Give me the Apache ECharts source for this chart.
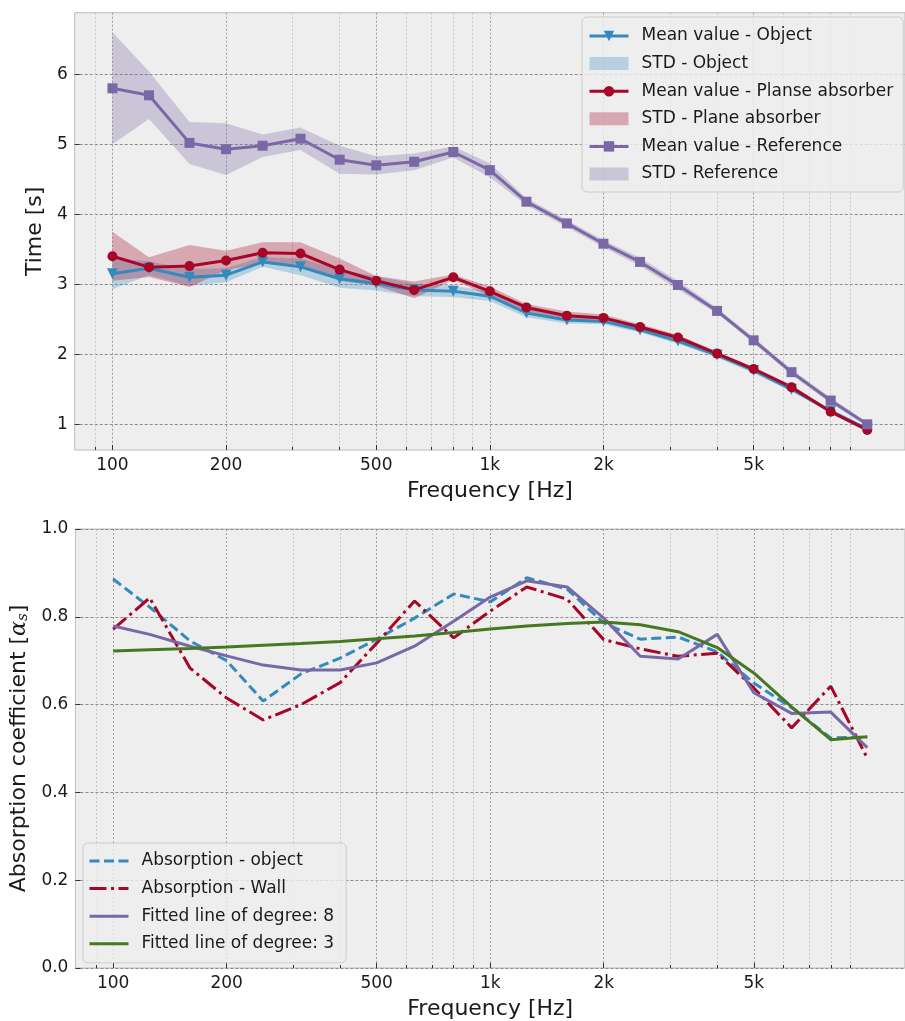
<!DOCTYPE html>
<html>
<head>
<meta charset="utf-8">
<script src="https://cdn.jsdelivr.net/npm/echarts@6/dist/echarts.min.js"></script>
<style>
  html, body { margin: 0; padding: 0; background: #ffffff; }
  #chart { width: 905px; height: 1021px; }
</style>
</head>
<body>
<div id="chart"></div>
<script>
// Third-octave band centre frequencies [Hz]
const freqs = [100, 125, 160, 200, 250, 315, 400, 500, 630, 800, 1000,
               1250, 1600, 2000, 2500, 3150, 4000, 5000, 6300, 8000, 10000];

// Labelled x ticks and the unlabelled minor ticks
const majorTickFreqs = [100, 200, 500, 1000, 2000, 5000];
const majorTickLabels = ['100', '200', '500', '1k', '2k', '5k'];
const minorTickFreqs = [90, 300, 400, 600, 700, 800, 900, 3000, 4000, 6000, 7000, 8000, 9000];
const timeTicks = [1, 2, 3, 4, 5, 6];

// Reverberation time [s]: mean and standard deviation per band
const objMean   = [3.15, 3.23, 3.10, 3.13, 3.32, 3.25, 3.08, 3.01, 2.92, 2.90, 2.83,
                   2.59, 2.49, 2.47, 2.35, 2.19, 1.99, 1.77, 1.50, 1.19, 0.93];
const objStd    = [0.22, 0.10, 0.12, 0.10, 0.07, 0.12, 0.13, 0.10, 0.09, 0.08, 0.07,
                   0.06, 0.05, 0.04, 0.04, 0.04, 0.04, 0.04, 0.03, 0.03, 0.03];
const planeMean = [3.40, 3.245, 3.26, 3.34, 3.45, 3.44, 3.21, 3.05, 2.92, 3.10, 2.90,
                   2.67, 2.55, 2.52, 2.39, 2.24, 2.01, 1.79, 1.53, 1.18, 0.92];
const planeStd  = [0.35, 0.14, 0.30, 0.14, 0.15, 0.16, 0.16, 0.07, 0.12, 0.04, 0.07,
                   0.05, 0.06, 0.05, 0.04, 0.04, 0.03, 0.03, 0.03, 0.03, 0.03];
const refMean   = [5.80, 5.70, 5.02, 4.93, 4.98, 5.08, 4.78, 4.70, 4.75, 4.89, 4.63,
                   4.18, 3.87, 3.58, 3.32, 2.99, 2.62, 2.20, 1.745, 1.34, 1.00];
const refStd    = [0.80, 0.34, 0.30, 0.37, 0.16, 0.16, 0.20, 0.13, 0.12, 0.08, 0.10,
                   0.05, 0.05, 0.05, 0.06, 0.06, 0.04, 0.04, 0.04, 0.04, 0.03];

// Absorption coefficients per band
const absObject = [0.886, 0.822, 0.745, 0.700, 0.608, 0.670, 0.706, 0.749, 0.797, 0.852, 0.834,
                   0.889, 0.863, 0.786, 0.749, 0.754, 0.720, 0.649, 0.593, 0.524, 0.526];
const absWall   = [0.772, 0.843, 0.683, 0.615, 0.565, 0.600, 0.650, 0.740, 0.836, 0.752, 0.813,
                   0.868, 0.840, 0.748, 0.727, 0.710, 0.717, 0.638, 0.547, 0.642, 0.478];
const fitDeg8   = [0.779, 0.760, 0.733, 0.711, 0.690, 0.679, 0.679, 0.695, 0.733, 0.790, 0.845,
                   0.882, 0.868, 0.797, 0.710, 0.704, 0.760, 0.627, 0.580, 0.583, 0.502];
const fitDeg3   = [0.722, 0.725, 0.728, 0.731, 0.735, 0.739, 0.744, 0.750, 0.756, 0.764, 0.772,
                   0.779, 0.785, 0.788, 0.782, 0.766, 0.730, 0.672, 0.595, 0.520, 0.527];

const C = { blue: '#348ABD', red: '#A60628', purple: '#7A68A6', green: '#467821' };
const FONT = 'DejaVu Sans';
const TXT = '#1a1a1a';
const lg = Math.log10;

const pts = ys => freqs.map((f, i) => [lg(f), ys[i]]);

function freqLabel(v) {
  for (let i = 0; i < majorTickFreqs.length; i++) {
    if (Math.abs(lg(majorTickFreqs[i]) - v) < 1e-6) return majorTickLabels[i];
  }
  return '';
}

// Two x axes per grid: labelled major ticks and unlabelled minor ticks (log10 frequency)
function xAxesFor(gi) {
  return [
    {
      type: 'value', gridIndex: gi, min: 1.9, max: 4.1, position: 'bottom',
      axisLine: { show: false },
      axisTick: { show: true, inside: true, length: 5, customValues: majorTickFreqs.map(lg),
                  lineStyle: { color: '#333', width: 1 } },
      axisLabel: { customValues: majorTickFreqs.map(lg), formatter: freqLabel,
                   fontSize: 17, color: TXT, fontFamily: FONT, margin: 7 },
      splitLine: { show: true, lineStyle: { color: '#9c9c9c', width: 1, type: [2, 2] } },
      name: 'Frequency [Hz]', nameLocation: 'middle', nameGap: 30,
      nameTextStyle: { fontSize: 22, color: TXT, fontFamily: FONT }
    },
    {
      type: 'value', gridIndex: gi, min: 1.9, max: 4.1, position: 'bottom',
      axisLine: { show: false },
      axisTick: { show: true, inside: true, length: 3, customValues: minorTickFreqs.map(lg),
                  lineStyle: { color: '#333', width: 1 } },
      axisLabel: { show: false },
      splitLine: { show: true, lineStyle: { color: '#c6c6c6', width: 1, type: [2, 2] } }
    }
  ];
}

// Shaded ±std band drawn as a single polygon through the axis scales
function bandSeries(name, mean, std, color) {
  const data = freqs.map((f, i) => [lg(f), mean[i] - std[i], mean[i] + std[i]]);
  return {
    type: 'custom', name, xAxisIndex: 0, yAxisIndex: 0, z: 1, silent: true,
    itemStyle: { color },
    encode: { x: 0, y: [1, 2] },
    data,
    renderItem(params, api) {
      if (params.dataIndex !== 0) return null;
      const upper = data.map(d => api.coord([d[0], d[2]]));
      const lower = data.map(d => api.coord([d[0], d[1]])).reverse();
      return { type: 'polygon', shape: { points: upper.concat(lower) }, style: { fill: color } };
    }
  };
}

function meanSeries(name, ys, color, symbol, size, rotate) {
  return {
    type: 'line', name, xAxisIndex: 0, yAxisIndex: 0, z: 3,
    data: pts(ys), symbol, symbolSize: size, symbolRotate: rotate || 0,
    showAllSymbol: true,
    lineStyle: { color, width: 3 }, itemStyle: { color }
  };
}

function absSeries(name, ys, color, type) {
  return {
    type: 'line', name, xAxisIndex: 2, yAxisIndex: 1, z: 3,
    data: pts(ys), symbol: 'none',
    lineStyle: { color, width: 3, type }, itemStyle: { color }
  };
}

const legendBox = {
  orient: 'vertical',
  itemWidth: 39, itemHeight: 13, itemGap: 7.6,
  lineStyle: { width: 3 },
  backgroundColor: 'rgba(238,238,238,0.8)', borderColor: '#cccccc', borderWidth: 1, borderRadius: 5,
  textStyle: { fontSize: 17, color: TXT, fontFamily: FONT, lineHeight: 20, padding: [0, 0, 0, 8] }
};

// plain line handles (no marker) for the absorption legend
const lineOnly = name => ({ name, itemStyle: { opacity: 0 } });

const chart = echarts.init(document.getElementById('chart'), null, { renderer: 'canvas' });

chart.setOption({
  animation: false,
  backgroundColor: '#ffffff',
  textStyle: { fontFamily: FONT },
  grid: [
    { left: 74.7, top: 12.7, width: 836, height: 437.3, show: true,
      backgroundColor: '#eeeeee', borderColor: '#bcbcbc', borderWidth: 1 },
    { left: 74.7, top: 529, width: 836, height: 439, show: true,
      backgroundColor: '#eeeeee', borderColor: '#bcbcbc', borderWidth: 1 }
  ],
  xAxis: xAxesFor(0).concat(xAxesFor(1)),
  yAxis: [
    {
      type: 'value', gridIndex: 0, min: 0.633, max: 6.88,
      axisLine: { show: false },
      axisTick: { show: true, inside: true, length: 5, customValues: timeTicks,
                  lineStyle: { color: '#333' } },
      axisLabel: { customValues: timeTicks, fontSize: 17, color: TXT, fontFamily: FONT, margin: 7 },
      splitLine: { show: true, lineStyle: { color: '#8c8c8c', width: 1, type: [3, 2] } },
      name: 'Time [s]', nameLocation: 'middle', nameGap: 19,
      nameTextStyle: { fontSize: 22, color: TXT, fontFamily: FONT }
    },
    {
      type: 'value', gridIndex: 1, min: 0, max: 1, interval: 0.2,
      axisLine: { show: false },
      axisTick: { show: true, inside: true, length: 5, lineStyle: { color: '#333' } },
      axisLabel: { fontSize: 17, color: TXT, fontFamily: FONT, margin: 7,
                   formatter: v => v.toFixed(1) },
      splitLine: { show: true, lineStyle: { color: '#8c8c8c', width: 1, type: [3, 2] } },
      name: 'Absorption coefficient [{a|α}{s|s}]', nameLocation: 'middle', nameGap: 40,
      nameTextStyle: {
        fontSize: 22, color: TXT, fontFamily: FONT,
        rich: {
          a: { fontSize: 22, fontStyle: 'italic', fontFamily: 'DejaVu Serif', color: TXT },
          s: { fontSize: 15, fontStyle: 'italic', fontFamily: 'DejaVu Serif', color: TXT,
               verticalAlign: 'bottom', padding: [8, 0, 0, 0] }
        }
      }
    }
  ],
  legend: [
    Object.assign({}, legendBox, {
      left: 582, top: 17, padding: [9, 10, 8, 6],
      data: [
        { name: 'Mean value - Object' },
        { name: 'STD - Object', icon: 'rect' },
        { name: 'Mean value - Planse absorber' },
        { name: 'STD - Plane absorber', icon: 'rect' },
        { name: 'Mean value - Reference' },
        { name: 'STD - Reference', icon: 'rect' }
      ]
    }),
    Object.assign({}, legendBox, {
      left: 83, top: 843, padding: [8, 12, 9, 5],
      data: [
        lineOnly('Absorption - object'),
        lineOnly('Absorption - Wall'),
        lineOnly('Fitted line of degree: 8'),
        lineOnly('Fitted line of degree: 3')
      ]
    })
  ],
  series: [
    bandSeries('STD - Object', objMean, objStd, 'rgba(52,138,189,0.3)'),
    bandSeries('STD - Plane absorber', planeMean, planeStd, 'rgba(166,6,40,0.3)'),
    bandSeries('STD - Reference', refMean, refStd, 'rgba(122,104,166,0.3)'),
    meanSeries('Mean value - Object', objMean, C.blue, 'triangle', 11, 180),
    meanSeries('Mean value - Planse absorber', planeMean, C.red, 'circle', 10),
    meanSeries('Mean value - Reference', refMean, C.purple, 'rect', 10),
    absSeries('Absorption - object', absObject, C.blue, [10, 4.5]),
    absSeries('Absorption - Wall', absWall, C.red, [17, 4.5, 3, 4.5]),
    absSeries('Fitted line of degree: 8', fitDeg8, C.purple, 'solid'),
    absSeries('Fitted line of degree: 3', fitDeg3, C.green, 'solid')
  ]
});
</script>
</body>
</html>
